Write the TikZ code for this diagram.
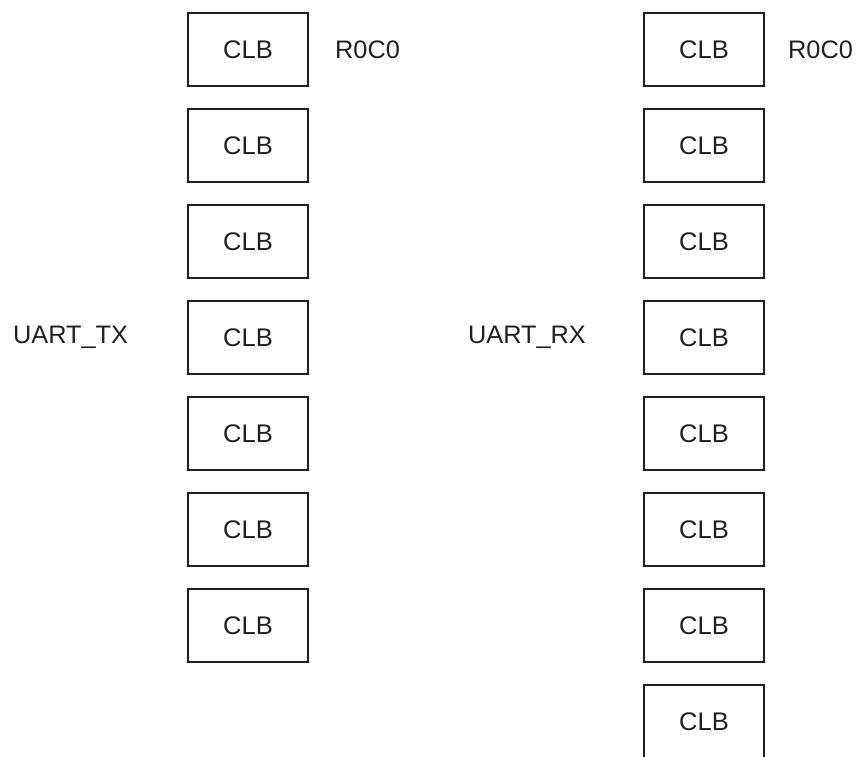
\documentclass[tikz,border=0pt]{standalone}
\usepackage{fontspec}
\setmainfont{Liberation Sans}
\definecolor{ink}{HTML}{231F20}
\begin{document}
\begin{tikzpicture}[x=1pt,y=-1pt,
  clb/.style={draw=ink,line width=2pt,minimum width=120pt,minimum height=73pt,inner sep=0pt,text=ink,font=\fontsize{25.5}{28}\selectfont},
  lbl/.style={inner sep=0pt,text=ink,font=\fontsize{25.3}{28}\selectfont}]
\useasboundingbox (0,0) rectangle (860,756);
\foreach \i in {0,...,6} {
  \node[clb] (L\i) at (248,{49.5+96*\i}) {CLB};
}
\foreach \i in {0,...,7} {
  \node[clb] (R\i) at (704,{49.5+96*\i}) {CLB};
}
\node[lbl,anchor=west] (lr) at (335,49.5) {R0C0};
\node[lbl,anchor=west] (rr) at (788,49.5) {R0C0};
\node[lbl,anchor=west] (tx) at (13,337.5) {UART\_TX};
\node[lbl,anchor=west] (rx) at (468,337.5) {UART\_RX};
\end{tikzpicture}
\end{document}
